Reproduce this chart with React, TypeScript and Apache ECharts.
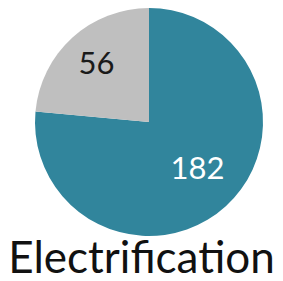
import React, { useEffect, useRef } from "react";
import * as echarts from "echarts";

const categories = ["Electrified", "Not electrified"];
const values = [182, 56];
const colors = ["#31859C", "#BFBFBF"];
const labelColors = ["#FFFFFF", "#1A1A1A"];
const titleText = "Electrification";

export default function App() {
  const ref = useRef<HTMLDivElement>(null);
  useEffect(() => {
    document.body.style.margin = "0";
    const chart = echarts.init(ref.current!, null, { renderer: "svg" });
    chart.setOption({
      animation: false,
      title: {
        text: titleText,
        left: "center",
        top: 234,
        textStyle: { fontFamily: "Lato", fontSize: 44, fontWeight: "normal", color: "#111" },
        padding: [0, 0, 0, 8],
      },
      series: [
        {
          type: "pie",
          center: [149, 122],
          radius: 114,
          startAngle: 90,
          clockwise: true,
          silent: true,
          label: {
            show: true,
            position: "inside",
            formatter: "{c}",
            fontFamily: "Lato",
            fontSize: 31,
          },
          labelLine: { show: false },
          data: categories.map((name, i) => ({
            name,
            value: values[i],
            itemStyle: { color: colors[i] },
            label: { color: labelColors[i], offset: i === 0 ? [8, 1] : [-12, -16] },
          })),
        },
      ],
    });
    return () => chart.dispose();
  }, []);
  return <div ref={ref} style={{ width: 283, height: 281 }} />;
}
